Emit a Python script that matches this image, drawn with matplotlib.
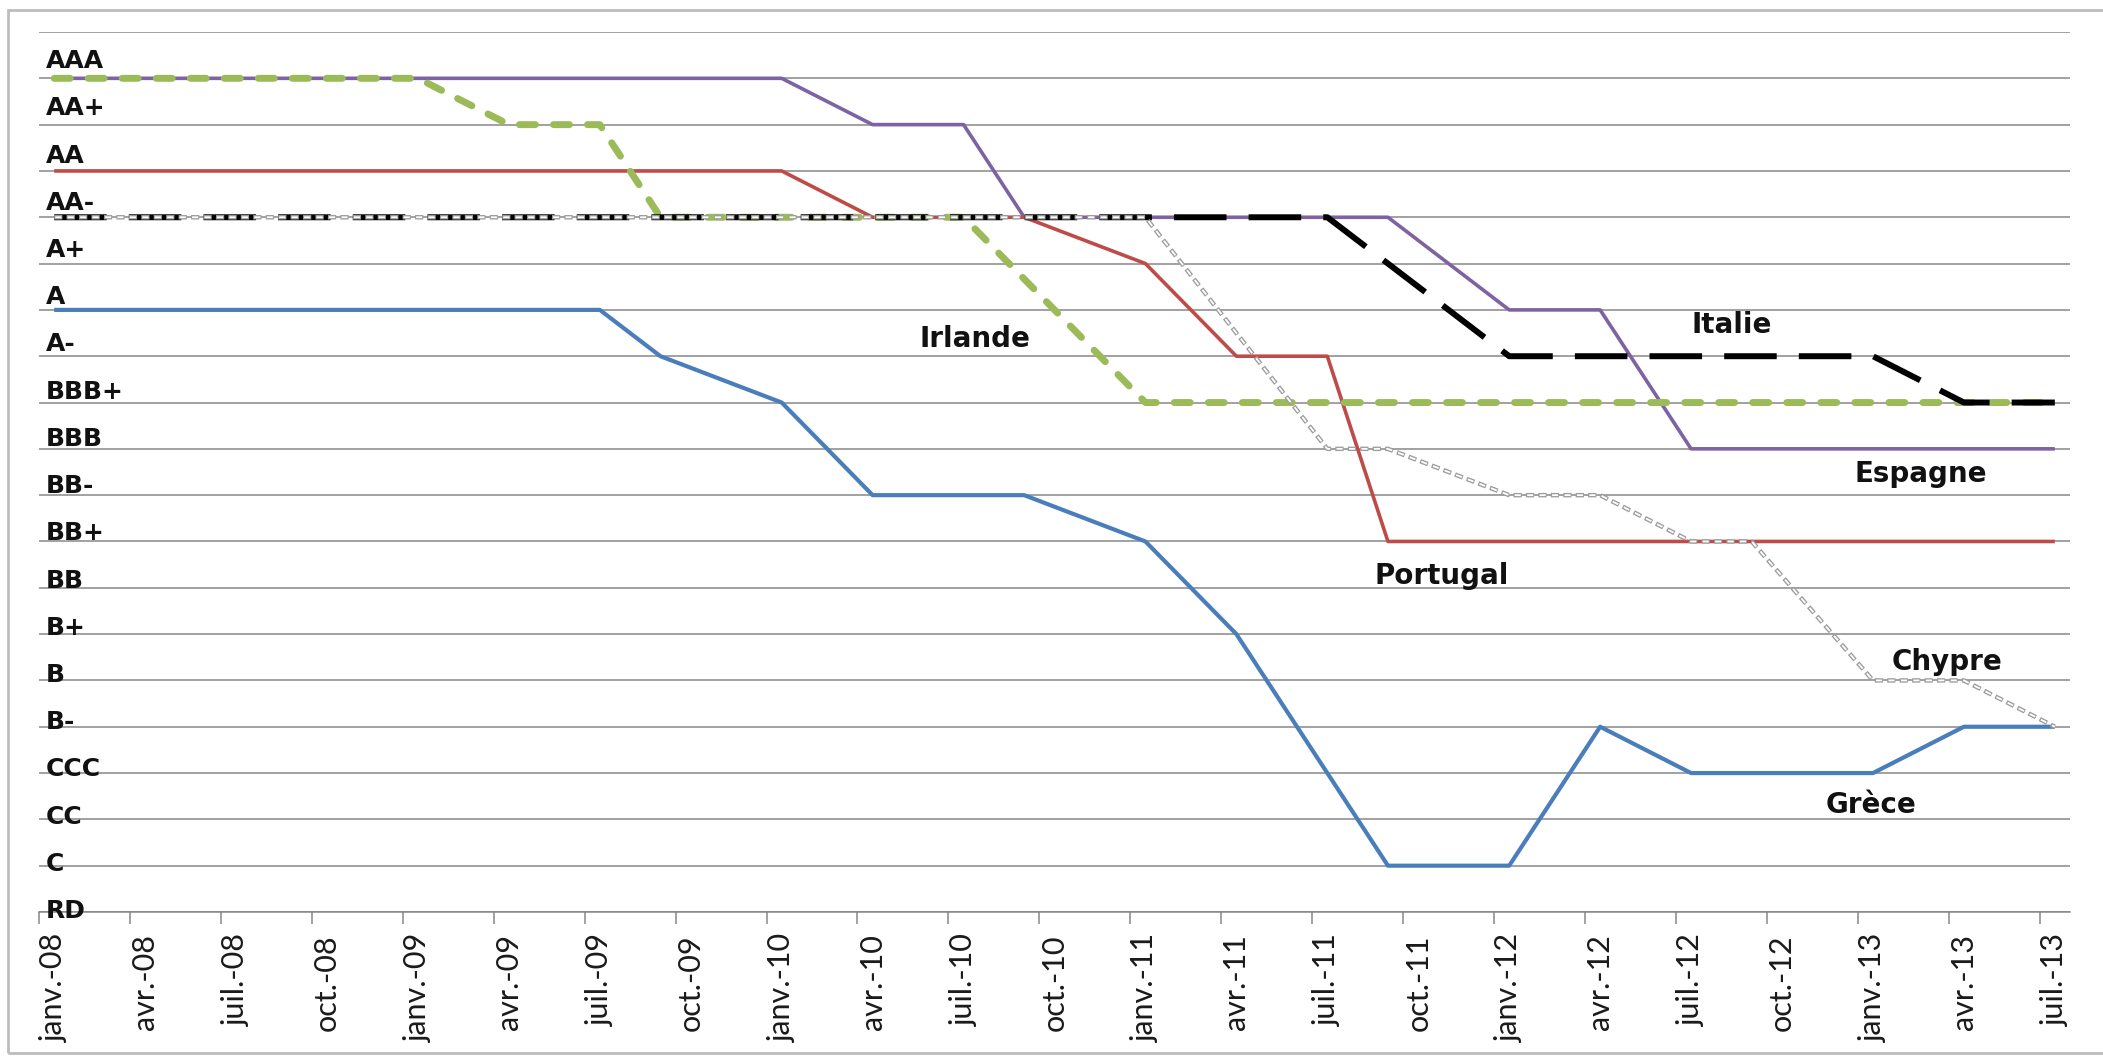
"""Notations souveraines de la zone euro, janv. 2008 - juil. 2013
"""
import matplotlib
matplotlib.use("Agg")
import matplotlib.pyplot as plt
import matplotlib.patches as mpatches
from matplotlib.ticker import FixedLocator, FixedFormatter, NullFormatter

# rating scale, lowest first (labels as they appear on the chart)
RATINGS = ["RD", "C", "CC", "CCC", "B-", "B", "B+", "BB", "BB+", "BB-",
           "BBB", "BBB+", "A-", "A", "A+", "AA-", "AA", "AA+", "AAA"]

TICK_LABELS = ["janv.-08", "avr.-08", "juil.-08", "oct.-08",
               "janv.-09", "avr.-09", "juil.-09", "oct.-09",
               "janv.-10", "avr.-10", "juil.-10", "oct.-10",
               "janv.-11", "avr.-11", "juil.-11", "oct.-11",
               "janv.-12", "avr.-12", "juil.-12", "oct.-12",
               "janv.-13", "avr.-13", "juil.-13"]
N_MONTHS = 67  # janv.-08 .. juil.-13

# each series: months where the rating changes slope, and the rating there
grece_dates = ["2008-01", "2009-07", "2009-09", "2010-01", "2010-04", "2010-09",
               "2011-01", "2011-04", "2011-09", "2012-01", "2012-04", "2012-07",
               "2013-01", "2013-04", "2013-07"]
grece_ratings = ["A", "A", "A-", "BBB+", "BB-", "BB-",
                 "BB+", "B+", "C", "C", "B-", "CCC",
                 "CCC", "B-", "B-"]

portugal_dates = ["2008-01", "2010-01", "2010-04", "2010-09", "2011-01",
                  "2011-04", "2011-07", "2011-09", "2013-07"]
portugal_ratings = ["AA", "AA", "AA-", "AA-", "A+",
                    "A-", "A-", "BB+", "BB+"]

espagne_dates = ["2008-01", "2010-01", "2010-04", "2010-07", "2010-09",
                 "2011-09", "2012-01", "2012-04", "2012-07", "2013-07"]
espagne_ratings = ["AAA", "AAA", "AA+", "AA+", "AA-",
                   "AA-", "A", "A", "BBB", "BBB"]

irlande_dates = ["2008-01", "2009-01", "2009-04", "2009-07", "2009-09",
                 "2010-07", "2011-01", "2013-07"]
irlande_ratings = ["AAA", "AAA", "AA+", "AA+", "AA-",
                   "AA-", "BBB+", "BBB+"]

italie_dates = ["2008-01", "2011-07", "2012-01", "2013-01", "2013-04", "2013-07"]
italie_ratings = ["AA-", "AA-", "A-", "A-", "BBB+", "BBB+"]

chypre_dates = ["2008-01", "2011-01", "2011-07", "2011-09", "2012-01", "2012-04",
                "2012-07", "2012-09", "2013-01", "2013-04", "2013-07"]
chypre_ratings = ["AA-", "AA-", "BBB", "BBB", "BB-", "BB-",
                  "BB+", "BB+", "B", "B", "B-"]


def month_pos(date):
    """centre of the month's category on the x axis"""
    year, month = date.split("-")
    return (int(year) - 2008) * 12 + int(month) - 1 + 0.5


def levels(ratings):
    return [RATINGS.index(r) for r in ratings]


def xs(dates):
    return [month_pos(d) for d in dates]


fig = plt.figure(figsize=(21.03, 10.61), dpi=100)
ax = fig.add_axes([0.01855, 0.14043, 0.96576, 0.82941])

GRID = "#878787"

ax.plot(xs(espagne_dates), levels(espagne_ratings), color="#7e62a1",
        lw=2.6, zorder=3.0, solid_capstyle="butt")
ax.plot(xs(portugal_dates), levels(portugal_ratings), color="#be4b48",
        lw=2.6, zorder=3.1, solid_capstyle="butt")
ax.plot(xs(grece_dates), levels(grece_ratings), color="#4a7ebb",
        lw=3.0, zorder=3.2, solid_capstyle="butt")
ax.plot(xs(irlande_dates), levels(irlande_ratings), color="#9bbb59",
        lw=5.0, zorder=3.3, linestyle=(0, (2.3, 2.6)), dash_capstyle="round")
ax.plot(xs(italie_dates), levels(italie_ratings), color="black",
        lw=4.3, zorder=3.4, linestyle=(0, (8.8, 3.7)), dash_capstyle="butt")
# Chypre: grey outlined dashes (grey dash with a white core, same period)
ax.plot(xs(chypre_dates), levels(chypre_ratings), color="#9c9c9c",
        lw=3.2, zorder=3.5, linestyle=(0, (1.85, 0.95)), dash_capstyle="butt")
ax.plot(xs(chypre_dates), levels(chypre_ratings), color="white",
        lw=1.3, zorder=3.6, linestyle=(6.31, (3.385, 3.508)), dash_capstyle="butt")

ax.set_xlim(0, N_MONTHS)
ax.set_ylim(0, len(RATINGS))

# horizontal grid on every rating level
ax.set_yticks(range(len(RATINGS) + 1))
ax.yaxis.set_major_formatter(NullFormatter())
ax.tick_params(axis="y", length=0)
ax.grid(axis="y", color=GRID, lw=1.1)
ax.set_axisbelow(True)

# x: tick marks between quarters, labels centred on the month
ax.xaxis.set_minor_locator(FixedLocator([i * 3 for i in range(len(TICK_LABELS))]))
ax.xaxis.set_major_locator(FixedLocator([i * 3 + 0.5 for i in range(len(TICK_LABELS))]))
ax.xaxis.set_major_formatter(FixedFormatter(TICK_LABELS))
ax.tick_params(axis="x", which="major", length=0, pad=16)
ax.tick_params(axis="x", which="minor", length=8.6, width=1.1, color=GRID,
               direction="out")
for lab in ax.get_xticklabels():
    lab.set_rotation(90)
    lab.set_family("Lato")
    lab.set_fontsize(22)
    lab.set_color("#1a1a1a")
    lab.set_ha("center")
    lab.set_va("top")

for side in ["top", "right", "left"]:
    ax.spines[side].set_visible(False)
ax.spines["bottom"].set_color(GRID)
ax.spines["bottom"].set_linewidth(1.1)

# rating names written just above their line, inside the plot
for lvl, name in enumerate(RATINGS):
    ax.text(0.23, 1.0194 * lvl - 0.13, name, fontsize=18, fontweight="bold",
            family="DejaVu Sans", ha="left", va="baseline", color="#111111",
            zorder=5)

# country names
country_labels = [("Irlande", 29.05, 12.20), ("Italie", 54.5, 12.5),
                  ("Espagne", 59.9, 9.29), ("Portugal", 44.05, 7.08),
                  ("Chypre", 61.1, 5.23), ("Grèce", 58.95, 2.14)]
for name, x, y in country_labels:
    ax.text(x, y, name, fontsize=20, fontweight="bold", family="DejaVu Sans",
            ha="left", va="baseline", color="#111111", zorder=5)

# light frame around the whole picture
frame = mpatches.Rectangle((8 / 2103, 8 / 1061), 1.05, (1051 - 8) / 1061,
                           transform=fig.transFigure, fill=False,
                           edgecolor="#bdbdbd", lw=2, clip_on=False)
fig.patches.append(frame)

fig.savefig("out.png", dpi=100)
